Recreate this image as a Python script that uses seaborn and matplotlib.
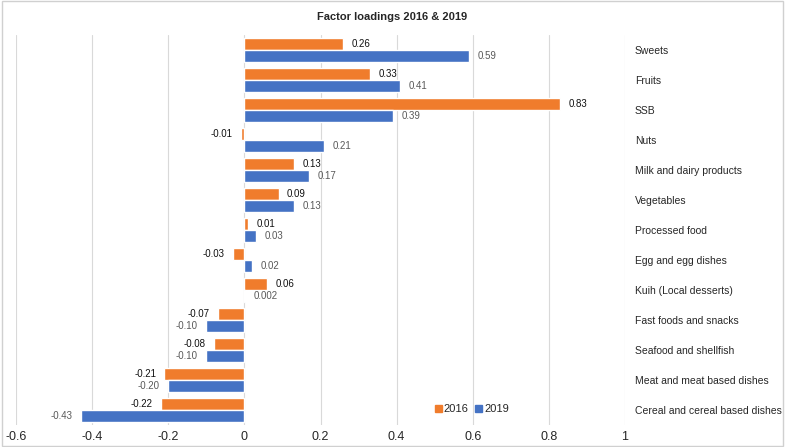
import numpy as np
import pandas as pd
import matplotlib
matplotlib.use("Agg")
import matplotlib.pyplot as plt
import seaborn as sns
from matplotlib.patches import Rectangle, Patch

# data
categories = [
    "Sweets",
    "Fruits",
    "SSB",
    "Nuts",
    "Milk and dairy products",
    "Vegetables",
    "Processed food",
    "Egg and egg dishes",
    "Kuih (Local desserts)",
    "Fast foods and snacks",
    "Seafood and shellfish",
    "Meat and meat based dishes",
    "Cereal and cereal based dishes",
]
loadings_2016 = [0.26, 0.33, 0.83, -0.01, 0.13, 0.09, 0.01, -0.03, 0.06, -0.07, -0.08, -0.21, -0.22]
loadings_2019 = [0.59, 0.41, 0.39, 0.21, 0.17, 0.13, 0.03, 0.02, 0.002, -0.10, -0.10, -0.20, -0.43]
labels_2016 = ["0.26", "0.33", "0.83", "-0.01", "0.13", "0.09", "0.01", "-0.03", "0.06", "-0.07", "-0.08", "-0.21", "-0.22"]
labels_2019 = ["0.59", "0.41", "0.39", "0.21", "0.17", "0.13", "0.03", "0.02", "0.002", "-0.10", "-0.10", "-0.20", "-0.43"]
years = ["2016", "2019"]
x_ticks = [-0.6, -0.4, -0.2, 0, 0.2, 0.4, 0.6, 0.8, 1]
x_tick_labels = ["-0.6", "-0.4", "-0.2", "0", "0.2", "0.4", "0.6", "0.8", "1"]

df = pd.DataFrame({
    "category": categories * 2,
    "year": [years[0]] * len(categories) + [years[1]] * len(categories),
    "loading": loadings_2016 + loadings_2019,
})

sns.set_theme(style="white")
plt.rcParams["font.family"] = ["Liberation Sans", "DejaVu Sans"]

colors = {"2016": "#F07C2C", "2019": "#4472C4"}

fig = plt.figure(figsize=(7.85, 4.47), dpi=100)
ax = fig.add_axes([16 / 785, 1 - 425 / 447, (625 - 16) / 785, 390 / 447])

sns.barplot(
    data=df, y="category", x="loading", hue="year", order=categories,
    hue_order=years, palette=colors, orient="h", width=0.8, ax=ax,
    legend=False, saturation=1,
)

ax.set_xlim(-0.6, 1.0)
ax.set_ylim(len(categories) - 0.5, -0.5)
ax.set_xticks(x_ticks)
ax.set_xticklabels(x_tick_labels, fontsize=9)
ax.xaxis.grid(True, color="#D9D9D9", linewidth=0.8)
ax.set_axisbelow(True)
for s in ax.spines.values():
    s.set_visible(False)
ax.tick_params(axis="x", length=0, pad=4)
ax.yaxis.tick_right()
ax.tick_params(axis="y", length=0, pad=7, labelsize=7.5)
ax.set_xlabel("")
ax.set_ylabel("")

ax.bar_label(ax.containers[0], labels=labels_2016, padding=6, fontsize=7, color="#111111")
ax.bar_label(ax.containers[1], labels=labels_2019, padding=6, fontsize=7, color="#595959")

handles = [Patch(color=colors[y]) for y in years]
fig.legend(handles, years, loc="center", bbox_to_anchor=(472 / 785, 1 - 409 / 447),
           ncol=2, frameon=False, fontsize=8, handlelength=0.6, handleheight=0.6,
           handletextpad=0.2, columnspacing=0.6)

fig.text(0.5, 1 - 17 / 447, "Factor loadings 2016 & 2019", ha="center", va="center",
         fontsize=8, fontweight="bold")

fig.add_artist(Rectangle((0.002, 0.003), 0.996, 0.994, transform=fig.transFigure,
                         fill=False, edgecolor="#D0D0D0", linewidth=1))

fig.savefig("out.png", dpi=100)
